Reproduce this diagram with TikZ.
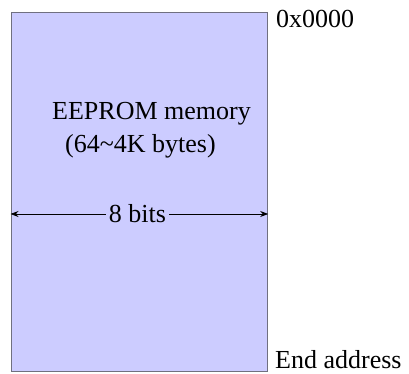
\documentclass[tikz,border=0pt]{standalone}
\usepackage{fontspec}
\setmainfont{Liberation Serif}
\usetikzlibrary{arrows.meta, positioning}
\definecolor{memfill}{RGB}{204,204,255}
\definecolor{memedge}{RGB}{112,112,128}

\begin{document}
\begin{tikzpicture}[
  x=1pt, y=1pt,
  membox/.style={draw=memedge, line width=1.2pt, fill=memfill, minimum width=256.5pt, minimum height=359pt, inner sep=0pt},
  label/.style={font=\rmfamily\fontsize{26}{32}\selectfont, inner sep=0pt},
  arrow/.style={{Stealth[length=8pt, width=6pt]}-{Stealth[length=8pt, width=6pt]}, line width=0.9pt},
]
\useasboundingbox (0,0) rectangle (409,374);

% Memory block
\node[membox, anchor=south west] (mem) at (10.5,1.5) {};

% Addresses
\node[label, anchor=base west] (start) at (276,346) {0x0000};
\node[label, anchor=base west] (end) at (275,5) {End address};

% Contents
\node[label, anchor=base west] (title) at (52,254) {EEPROM memory};
\node[label, anchor=base west] (size) at (65,221) {(64\textasciitilde 4K bytes)};

% Width
\coordinate (wl) at (mem.west |- 0,160);
\coordinate (wr) at (mem.east |- 0,160);
\draw[arrow] (wl) -- (wr)
  node[label, midway, xshift=-2pt, fill=memfill, inner xsep=3pt, inner ysep=2pt] (bits) {8 bits};

\end{tikzpicture}
\end{document}
